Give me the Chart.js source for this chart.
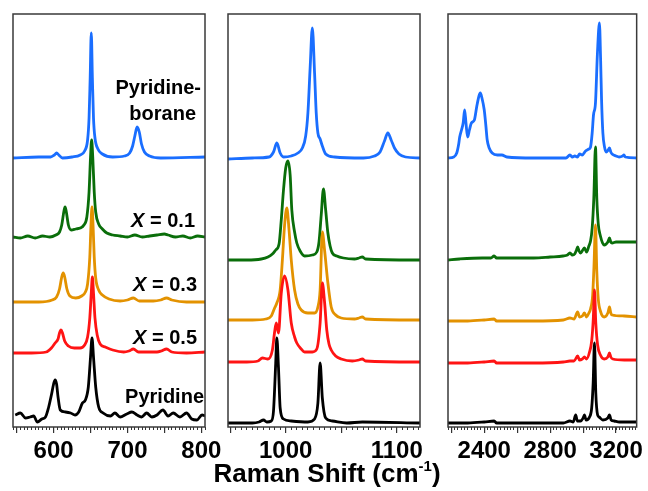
<!DOCTYPE html>
<html>
<head>
<meta charset="utf-8">
<title>Raman spectra</title>
<script src="https://cdn.jsdelivr.net/npm/chart.js@4.4.0/dist/chart.umd.min.js"></script>
<style>
  html, body { margin: 0; padding: 0; background: #fff; }
  #wrap { position: relative; width: 648px; height: 491px; overflow: hidden; }
  #wrap canvas { position: absolute; top: 0; }
</style>
</head>
<body>
<div id="wrap">
  <canvas id="lowChart" width="230" height="491" style="left:0px"></canvas>
  <canvas id="midChart" width="260" height="491" style="left:195px"></canvas>
  <canvas id="highChart" width="223" height="491" style="left:425px"></canvas>
</div>
<script>
// series, top to bottom of the stack
const sampleNames = ['Pyridine-borane', 'X = 0.1', 'X = 0.3', 'X = 0.5', 'Pyridine'];
const sampleColors = ['#1a6eff', '#0a6e0a', '#e39200', '#ff1414', '#000000'];

// ---- 545 - 805 cm-1 ----
const lowBorane = [[545,0],[580,1],[596,1],[601,3],[604,5],[607,3],[612,0],[625,1],[636,3],[642,7],[646,18],[648,40],[649.5,80],[651,125],[652.5,80],[654,40],[656,20],[660,9],[666,4],[680,1],[696,2],[703,5],[707,12],[710,22],[713,31],[716,26],[719,14],[723,6],[730,2],[745,0],[805,1]];
const lowX01 = [[545,0],[555,-1],[565,1],[575,-1],[585,1],[595,0],[603,2],[608,5],[611,12],[614,26],[615.5,30],[617,26],[620,12],[624,7],[630,8],[636,9],[641,12],[645,20],[648,45],[650,80],[651.5,97],[653,80],[655,45],[657,25],[661,13],[666,8],[672,4],[680,2],[690,1],[700,0],[710,2],[720,0],[730,1],[740,2],[750,3],[755,2],[765,0],[775,1],[785,-1],[795,1],[805,0]];
const lowX03 = [[545,0],[580,0],[598,2],[604,5],[608,13],[611,25],[613,29],[615,25],[618,13],[622,6],[630,4],[638,6],[643,10],[646,18],[649,45],[650.5,75],[652,95],[653.5,75],[655,45],[657,24],[661,12],[666,7],[675,3],[690,1],[700,2],[708,4],[716,1],[735,1],[745,2],[753,4],[760,2],[780,0],[805,0]];
const lowX05 = [[545,0],[570,0],[590,1],[597,5],[602,10],[606,14],[608,20],[610,23],[612,20],[615,12],[620,7],[628,5],[636,5],[642,8],[646,16],[649,35],[651,60],[652.5,76],[654,60],[656,35],[659,18],[663,9],[670,6],[680,3],[695,1],[702,2],[708,4],[715,1],[740,1],[746,2],[753,4],[760,1],[780,0],[805,1]];
const lowPyridine = [[548,2],[555,4],[562,-1],[568,0],[573,1],[578,-5],[584,-2],[589,0],[593,9],[597,22],[600,33],[602,37],[604,33],[606,20],[609,7],[616,5],[623,4],[629,2],[634,5],[639,14],[643,17],[647,30],[650,60],[652,79],[654,60],[657,30],[661,10],[667,4],[677,1],[683,4],[690,0],[699,3],[706,5],[713,2],[719,0],[726,4],[733,0],[740,2],[748,7],[755,1],[762,4],[771,0],[780,4],[787,-2],[794,-3],[801,2],[805,1]];
const lowOffsets = [269, 190, 125, 74, 10];
const lowTicks = [550, 600, 650, 700, 750, 800];
const lowTickLabels = [600, 700, 800];

// ---- 948 - 1121 cm-1 ----
const midBorane = [[948,-1],[970,0],[985,1],[989,6],[992,15],[995,5],[998,1],[1005,2],[1011,5],[1015,10],[1018,22],[1020,45],[1022,90],[1024,130],[1026,85],[1027.5,45],[1029,25],[1031,19],[1033,12],[1036,4],[1044,1],[1070,0],[1080,2],[1085,6],[1089,17],[1092,25],[1095,18],[1098,10],[1102,4],[1108,1],[1121,0]];
const midX01 = [[948,0],[965,0],[978,1],[984,3],[988,6],[991,10],[994,16],[996,40],[998,70],[1000,92],[1002,99],[1004,85],[1005.5,50],[1008,28],[1010,17],[1013,9],[1017,4],[1024,5],[1028,8],[1030,18],[1032,45],[1034,71],[1036,50],[1038,27],[1040,14],[1042,7],[1046,4],[1052,2],[1062,1],[1066,2],[1069,3],[1072,1],[1121,0]];
const midX03 = [[948,0],[970,0],[982,1],[987,4],[990,12],[992,17],[995,30],[997,60],[999,95],[1001,112],[1003,90],[1005,60],[1008,30],[1011,16],[1014,10],[1020,7],[1026,7],[1029,13],[1031,30],[1033,88],[1035,70],[1038,37],[1041,13],[1045,5],[1050,2],[1062,1],[1066,2],[1069,3],[1072,1],[1121,0]];
const midX05 = [[948,0],[965,0],[975,1],[979,4],[984,3],[988,12],[990,30],[991.5,39],[993.5,29],[996,69],[999,86],[1002,72],[1005,39],[1008,25],[1010,19],[1014,13],[1017,10],[1024,10],[1028,13],[1031,39],[1033,79],[1035,60],[1037,32],[1039,18],[1041,12],[1045,6],[1050,3],[1060,1],[1066,2],[1069,3],[1072,1],[1121,0]];
const midPyridine = [[948,0],[970,0],[976,1],[980,3],[983,1],[987,2],[989,12],[991,60],[992,85],[993.5,55],[995,15],[998,4],[1005,2],[1020,1],[1026,4],[1029,20],[1031,60],[1033,25],[1036,5],[1042,2],[1055,0],[1069,1],[1121,0]];
const midOffsets = [269, 167, 107, 65, 4];
const midTicks = [950, 1000, 1050, 1100];
const midTickLabels = [1000, 1100];

// ---- 2180 - 3325 cm-1 ----
const highBorane = [[2180,0],[2215,1],[2233,5],[2245,14],[2251,21],[2262,28],[2272,35],[2281,48],[2289,35],[2299,21],[2310,28],[2322,35],[2340,38],[2355,52],[2368,62],[2376,65],[2386,60],[2400,48],[2410,32],[2418,18],[2430,10],[2448,5],[2480,3],[2507,3],[2537,1],[2700,0],[2896,0],[2920,3],[2935,1],[2950,2],[2965,1],[2979,4],[2995,3],[3015,7],[3035,9],[3045,11],[3055,25],[3063,43],[3075,55],[3087,105],[3099,135],[3106,100],[3112,58],[3120,25],[3130,11],[3140,6],[3152,8],[3160,10],[3168,6],[3176,4],[3200,2],[3218,1],[3240,2],[3248,3],[3256,1],[3325,0]];
const highX01 = [[2180,-2],[2250,-1],[2388,0],[2440,0],[2460,2],[2475,0],[2600,0],[2700,0],[2800,1],[2878,2],[2905,3],[2920,5],[2935,3],[2949,4],[2960,8],[2967,11],[2975,7],[2985,5],[2998,8],[3008,10],[3021,6],[3035,12],[3045,17],[3055,30],[3065,60],[3075,111],[3083,60],[3092,34],[3105,22],[3118,15],[3128,13],[3150,16],[3160,20],[3168,16],[3176,15],[3200,16],[3250,16],[3325,16]];
const highX03 = [[2180,0],[2300,0],[2400,1],[2460,2],[2475,0],[2700,0],[2880,1],[2920,3],[2945,2],[2967,9],[2978,4],[2995,5],[3008,8],[3021,4],[3035,8],[3045,12],[3058,26],[3066,55],[3075,96],[3083,50],[3092,22],[3105,10],[3128,4],[3150,8],[3160,14],[3168,8],[3176,6],[3250,5],[3325,4]];
const highX05 = [[2180,0],[2300,0],[2400,1],[2460,2],[2475,0],[2700,0],[2880,1],[2920,2],[2945,2],[2967,7],[2978,3],[2995,4],[3008,6],[3021,4],[3039,11],[3052,22],[3062,45],[3069,73],[3077,40],[3088,18],[3105,8],[3128,4],[3150,6],[3160,10],[3168,6],[3180,4],[3250,3],[3325,3]];
const highPyridine = [[2180,0],[2300,0],[2400,1],[2460,2],[2475,0],[2700,0],[2880,0],[2920,2],[2940,1],[2955,8],[2965,2],[2985,2],[3000,5],[3008,8],[3018,3],[3039,6],[3052,15],[3061,40],[3069,80],[3077,30],[3088,8],[3097,6],[3120,3],[3150,5],[3160,8],[3170,3],[3188,2],[3220,1],[3325,1]];
const highOffsets = [269, 169, 106, 64, 4];
const highTicks = [2200, 2400, 2600, 2800, 3000, 3200];
const highTickLabels = [2400, 2800, 3200];

const fontFamily = '"Liberation Sans", Arial, Helvetica, sans-serif';

// box round each panel
const framePlugin = {
    id: 'frame',
    afterDatasetsDraw(chart) {
        const { ctx, chartArea: a } = chart;
        ctx.save();
        ctx.strokeStyle = '#3a3a3a';
        ctx.lineWidth = 1.5;
        ctx.strokeRect(a.left, a.top, a.right - a.left, a.bottom - a.top);
        ctx.restore();
    }
};

// sample names written inside the first panel
const sampleLabelPlugin = {
    id: 'sampleLabels',
    afterDraw(chart) {
        const ctx = chart.ctx;
        const bold = 'bold 20px ' + fontFamily;
        ctx.save();
        ctx.fillStyle = '#000';
        ctx.textBaseline = 'middle';
        ctx.textAlign = 'right';
        ctx.font = bold;
        ctx.fillText('Pyridine-', 201, 88);
        ctx.fillText('borane', 196, 114);
        ctx.fillText('Pyridine', 204, 397);

        const xLabels = [['0.1', 195, 221], ['0.3', 197, 285], ['0.5', 197, 338]];
        xLabels.forEach(([val, right, y]) => {
            const rest = ' = ' + val;
            ctx.font = bold;
            const w = ctx.measureText(rest).width;
            ctx.fillText(rest, right, y);
            ctx.font = 'italic bold 20px ' + fontFamily;
            ctx.fillText('X', right - w, y);
        });
        ctx.restore();
    }
};

// shared axis title under the middle panel, with a raised "-1"
const axisTitlePlugin = {
    id: 'axisTitle',
    afterDraw(chart) {
        const ctx = chart.ctx;
        const a = chart.chartArea;
        const big = 'bold 26px ' + fontFamily;
        const small = 'bold 15px ' + fontFamily;
        const baseline = 482;
        ctx.save();
        ctx.fillStyle = '#000';
        ctx.textBaseline = 'alphabetic';
        ctx.textAlign = 'left';
        ctx.font = big;
        const w1 = ctx.measureText('Raman Shift (cm').width;
        const w3 = ctx.measureText(')').width;
        ctx.font = small;
        const w2 = ctx.measureText('-1').width;
        let x = (a.left + a.right) / 2 + 3 - (w1 + w2 + w3) / 2;
        ctx.font = big;
        ctx.fillText('Raman Shift (cm', x, baseline);
        x += w1;
        ctx.font = small;
        ctx.fillText('-1', x, baseline - 11);
        x += w2;
        ctx.font = big;
        ctx.fillText(')', x, baseline);
        ctx.restore();
    }
};

function buildDatasets(spectra, offsets) {
    return spectra.map((points, i) => ({
        label: sampleNames[i],
        data: points.map(p => ({ x: p[0], y: p[1] + offsets[i] })),
        borderColor: sampleColors[i],
        borderWidth: 2.8,
        pointRadius: 0,
        fill: false,
        cubicInterpolationMode: 'monotone',
        order: spectra.length - 1 - i
    }));
}

function makePanel(canvasId, spectra, offsets, range, majorTicks, tickLabels, minorStep, pad, extraPlugins) {
    const minorTicks = [];
    for (let v = Math.ceil(range[0] / minorStep) * minorStep; v <= range[1]; v += minorStep) {
        minorTicks.push(v);
    }

    return new Chart(document.getElementById(canvasId), {
        type: 'line',
        data: { datasets: buildDatasets(spectra, offsets) },
        options: {
            responsive: false,
            animation: false,
            events: [],
            layout: { padding: { left: pad[0], right: pad[1], top: 14, bottom: 0 } },
            plugins: { legend: { display: false }, tooltip: { enabled: false } },
            scales: {
                xMinor: {
                    type: 'linear',
                    axis: 'x',
                    position: 'bottom',
                    weight: 0,
                    min: range[0],
                    max: range[1],
                    border: { display: false },
                    grid: { drawOnChartArea: false, drawTicks: true, tickLength: 3, color: '#333', lineWidth: 1 },
                    ticks: { display: false },
                    afterBuildTicks: s => { s.ticks = minorTicks.map(v => ({ value: v })); },
                    afterFit: s => { s.height = 0; }
                },
                x: {
                    type: 'linear',
                    position: 'bottom',
                    weight: 1,
                    min: range[0],
                    max: range[1],
                    border: { display: false },
                    grid: { drawOnChartArea: false, drawTicks: true, tickLength: 6, color: '#333', lineWidth: 1.2 },
                    ticks: {
                        padding: 4,
                        color: '#000',
                        autoSkip: false,
                        maxRotation: 0,
                        font: { family: fontFamily, size: 24, weight: 'bold' },
                        callback: v => tickLabels.includes(v) ? String(v) : ''
                    },
                    afterBuildTicks: s => { s.ticks = majorTicks.map(v => ({ value: v })); },
                    afterFit: s => { s.height = 64; }
                },
                y: { display: false, min: 0, max: 413 }
            }
        },
        plugins: [framePlugin].concat(extraPlugins || [])
    });
}

makePanel('lowChart', [lowBorane, lowX01, lowX03, lowX05, lowPyridine], lowOffsets,
    [545, 805], lowTicks, lowTickLabels, 5, [13, 25], [sampleLabelPlugin]);
makePanel('midChart', [midBorane, midX01, midX03, midX05, midPyridine], midOffsets,
    [948, 1121], midTicks, midTickLabels, 5, [33, 35], [axisTitlePlugin]);
makePanel('highChart', [highBorane, highX01, highX03, highX05, highPyridine], highOffsets,
    [2180, 3325], highTicks, highTickLabels, 20, [23, 8]);
</script>
</body>
</html>
